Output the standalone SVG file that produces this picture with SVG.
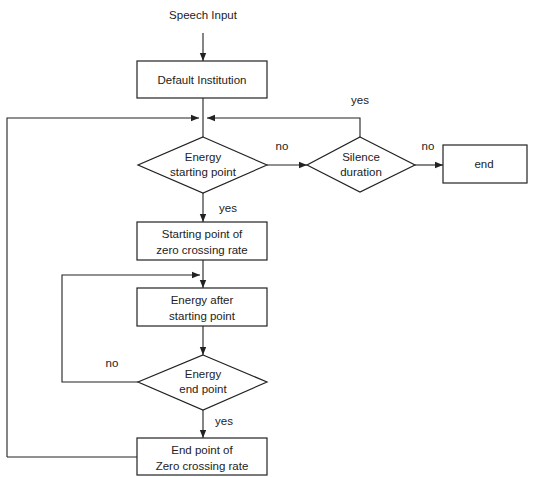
<svg xmlns="http://www.w3.org/2000/svg" width="534" height="477" viewBox="0 0 534 477">
<style>
.n{fill:#fff;stroke:#222;stroke-width:1.2}
.c{fill:none;stroke:#222;stroke-width:1.1}
text{font-family:"Liberation Sans",Arial,sans-serif;font-size:11.5px;fill:#222;text-anchor:middle}
</style>
<defs>
<marker id="a" viewBox="0 0 10 10" refX="10" refY="5" markerWidth="8" markerHeight="8" markerUnits="userSpaceOnUse" orient="auto">
<path d="M0,1 L10,5 L0,9 Z" fill="#222"/>
</marker>
</defs>
<rect width="534" height="477" fill="#fff"/>
<g id="connectors">
<path class="c" d="M203,33 V61" marker-end="url(#a)"/>
<path class="c" d="M203,98 V137"/>
<path class="c" d="M7,457 V118 H199" marker-end="url(#a)"/>
<path class="c" d="M360,137 V118 H207" marker-end="url(#a)"/>
<path class="c" d="M267,165 H307" marker-end="url(#a)"/>
<path class="c" d="M415,165 H443" marker-end="url(#a)"/>
<path class="c" d="M203,193 V222" marker-end="url(#a)"/>
<path class="c" d="M203,260 V288" marker-end="url(#a)"/>
<path class="c" d="M138,382 H62 V275 H200" marker-end="url(#a)"/>
<path class="c" d="M203,326 V355" marker-end="url(#a)"/>
<path class="c" d="M203,410 V438" marker-end="url(#a)"/>
<path class="c" d="M137,457 H7"/>
<text x="282" y="150">no</text>
<text x="428" y="150">no</text>
<text x="360" y="104">yes</text>
<text x="228" y="212">yes</text>
<text x="112" y="367">no</text>
<text x="224" y="425">yes</text>
</g>
<g id="speech-input"><text x="203" y="19">Speech Input</text></g>
<g id="default-institution">
<rect class="n" x="137" y="61" width="130" height="37"/>
<text x="202" y="84">Default Institution</text>
</g>
<g id="energy-starting-point">
<polygon class="n" points="203,137 267,165 203,193 138,165"/>
<text x="203" y="161">Energy</text>
<text x="203" y="176">starting point</text>
</g>
<g id="silence-duration">
<polygon class="n" points="360,137 415,165 360,192 307,165"/>
<text x="361" y="161">Silence</text>
<text x="361" y="176">duration</text>
</g>
<g id="end">
<rect class="n" x="443" y="145" width="84" height="38"/>
<text x="484" y="168">end</text>
</g>
<g id="starting-point-zcr">
<rect class="n" x="137" y="222" width="130" height="38"/>
<text x="202" y="238">Starting point of</text>
<text x="202" y="254">zero crossing rate</text>
</g>
<g id="energy-after">
<rect class="n" x="137" y="288" width="130" height="38"/>
<text x="202" y="304">Energy after</text>
<text x="202" y="320">starting point</text>
</g>
<g id="energy-end-point">
<polygon class="n" points="203,355 267,382 203,410 138,382"/>
<text x="203" y="378">Energy</text>
<text x="203" y="393">end point</text>
</g>
<g id="end-point-zcr">
<rect class="n" x="137" y="438" width="130" height="37"/>
<text x="202" y="454">End point of</text>
<text x="202" y="470">Zero crossing rate</text>
</g>
</svg>
